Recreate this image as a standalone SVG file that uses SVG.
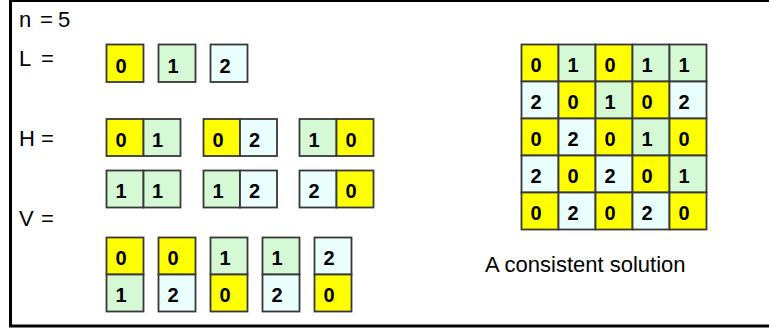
<svg xmlns="http://www.w3.org/2000/svg" width="769" height="329" viewBox="0 0 769 329">
<style>
rect.y{fill:#ffff00;stroke:#383838;stroke-width:1.8}
rect.g{fill:#d5f8d5;stroke:#383838;stroke-width:1.8}
rect.c{fill:#eafefe;stroke:#383838;stroke-width:1.8}
text.d{font-family:"Liberation Sans",Arial,sans-serif;font-weight:bold;font-size:20px;fill:#000}
text.l{font-family:"Liberation Sans",Arial,sans-serif;font-size:22px;fill:#000}
</style>
<rect x="0" y="0" width="769" height="329" fill="#fff"/>
<rect id="frame" x="10.5" y="0.5" width="770" height="325.5" fill="none" stroke="#000" stroke-width="3"/>
<g id="labels">
<text class="l" x="19" y="27" xml:space="preserve">n <tspan x="40" style="word-spacing:-1px">= 5</tspan></text>
<text class="l" x="19" y="66" xml:space="preserve">L <tspan x="41">=</tspan></text>
<text class="l" x="19" y="146" xml:space="preserve">H <tspan x="41">=</tspan></text>
<text class="l" x="19" y="226" xml:space="preserve">V <tspan x="41">=</tspan></text>
<text class="l" x="485" y="272">A consistent solution</text>
</g>
<g id="L0"><rect class="y" x="106.5" y="44.5" width="37" height="37.5"/><text class="d" x="115.5" y="73">0</text></g>
<g id="L1"><rect class="g" x="158.5" y="44.5" width="37" height="37.5"/><text class="d" x="167.5" y="73">1</text></g>
<g id="L2"><rect class="c" x="210.5" y="44.5" width="37" height="37.5"/><text class="d" x="219.5" y="73">2</text></g>
<g id="H01"><rect class="y" x="106.5" y="119" width="37" height="37"/><rect class="g" x="143.5" y="119" width="37" height="37"/><text class="d" x="115.5" y="146.5">0</text><text class="d" x="152" y="146.5">1</text></g>
<g id="H02"><rect class="y" x="203.5" y="119" width="36.5" height="37"/><rect class="c" x="240" y="119" width="37" height="37"/><text class="d" x="212.5" y="146.5">0</text><text class="d" x="249" y="146.5">2</text></g>
<g id="H10"><rect class="g" x="299.5" y="119" width="37" height="37"/><rect class="y" x="336.5" y="119" width="37" height="37"/><text class="d" x="308.5" y="146.5">1</text><text class="d" x="345.5" y="146.5">0</text></g>
<g id="H11"><rect class="g" x="106.5" y="170.5" width="37" height="37"/><rect class="g" x="143.5" y="170.5" width="37" height="37"/><text class="d" x="115.5" y="198">1</text><text class="d" x="152" y="198">1</text></g>
<g id="H12"><rect class="g" x="203.5" y="170.5" width="36.5" height="37"/><rect class="c" x="240" y="170.5" width="37" height="37"/><text class="d" x="212.5" y="198">1</text><text class="d" x="249" y="198">2</text></g>
<g id="H20"><rect class="c" x="299.5" y="170.5" width="37" height="37"/><rect class="y" x="336.5" y="170.5" width="37" height="37"/><text class="d" x="308.5" y="198">2</text><text class="d" x="345.5" y="198">0</text></g>
<g id="V01"><rect class="y" x="106.5" y="237.5" width="37" height="37"/><rect class="g" x="106.5" y="274.5" width="37" height="37"/><text class="d" x="115.5" y="265">0</text><text class="d" x="115.5" y="302">1</text></g>
<g id="V02"><rect class="y" x="158.5" y="237.5" width="37" height="37"/><rect class="c" x="158.5" y="274.5" width="37" height="37"/><text class="d" x="167.5" y="265">0</text><text class="d" x="167.5" y="302">2</text></g>
<g id="V10"><rect class="g" x="210.5" y="237.5" width="37" height="37"/><rect class="y" x="210.5" y="274.5" width="37" height="37"/><text class="d" x="219.5" y="265">1</text><text class="d" x="219.5" y="302">0</text></g>
<g id="V12"><rect class="g" x="262.5" y="237.5" width="37" height="37"/><rect class="c" x="262.5" y="274.5" width="37" height="37"/><text class="d" x="271.5" y="265">1</text><text class="d" x="271.5" y="302">2</text></g>
<g id="V20"><rect class="c" x="314.5" y="237.5" width="37" height="37"/><rect class="y" x="314.5" y="274.5" width="37" height="37"/><text class="d" x="323.5" y="265">2</text><text class="d" x="323.5" y="302">0</text></g>
<g id="solution">
<rect class="y" x="521.5" y="44.5" width="37" height="37"/><rect class="g" x="558.5" y="44.5" width="37" height="37"/><rect class="y" x="595.5" y="44.5" width="37" height="37"/><rect class="g" x="632.5" y="44.5" width="37" height="37"/><rect class="g" x="669.5" y="44.5" width="37" height="37"/>
<rect class="c" x="521.5" y="81.5" width="37" height="37"/><rect class="y" x="558.5" y="81.5" width="37" height="37"/><rect class="g" x="595.5" y="81.5" width="37" height="37"/><rect class="y" x="632.5" y="81.5" width="37" height="37"/><rect class="c" x="669.5" y="81.5" width="37" height="37"/>
<rect class="y" x="521.5" y="118.5" width="37" height="37"/><rect class="c" x="558.5" y="118.5" width="37" height="37"/><rect class="y" x="595.5" y="118.5" width="37" height="37"/><rect class="g" x="632.5" y="118.5" width="37" height="37"/><rect class="y" x="669.5" y="118.5" width="37" height="37"/>
<rect class="c" x="521.5" y="155.5" width="37" height="37"/><rect class="y" x="558.5" y="155.5" width="37" height="37"/><rect class="c" x="595.5" y="155.5" width="37" height="37"/><rect class="y" x="632.5" y="155.5" width="37" height="37"/><rect class="g" x="669.5" y="155.5" width="37" height="37"/>
<rect class="y" x="521.5" y="192.5" width="37" height="37"/><rect class="c" x="558.5" y="192.5" width="37" height="37"/><rect class="y" x="595.5" y="192.5" width="37" height="37"/><rect class="c" x="632.5" y="192.5" width="37" height="37"/><rect class="y" x="669.5" y="192.5" width="37" height="37"/>
<text class="d" x="530.5" y="72">0</text><text class="d" x="567.5" y="72">1</text><text class="d" x="604.5" y="72">0</text><text class="d" x="641.5" y="72">1</text><text class="d" x="678.5" y="72">1</text>
<text class="d" x="530.5" y="109">2</text><text class="d" x="567.5" y="109">0</text><text class="d" x="604.5" y="109">1</text><text class="d" x="641.5" y="109">0</text><text class="d" x="678.5" y="109">2</text>
<text class="d" x="530.5" y="146">0</text><text class="d" x="567.5" y="146">2</text><text class="d" x="604.5" y="146">0</text><text class="d" x="641.5" y="146">1</text><text class="d" x="678.5" y="146">0</text>
<text class="d" x="530.5" y="183">2</text><text class="d" x="567.5" y="183">0</text><text class="d" x="604.5" y="183">2</text><text class="d" x="641.5" y="183">0</text><text class="d" x="678.5" y="183">1</text>
<text class="d" x="530.5" y="220">0</text><text class="d" x="567.5" y="220">2</text><text class="d" x="604.5" y="220">0</text><text class="d" x="641.5" y="220">2</text><text class="d" x="678.5" y="220">0</text>
</g>
<g id="connectors"/>
</svg>
